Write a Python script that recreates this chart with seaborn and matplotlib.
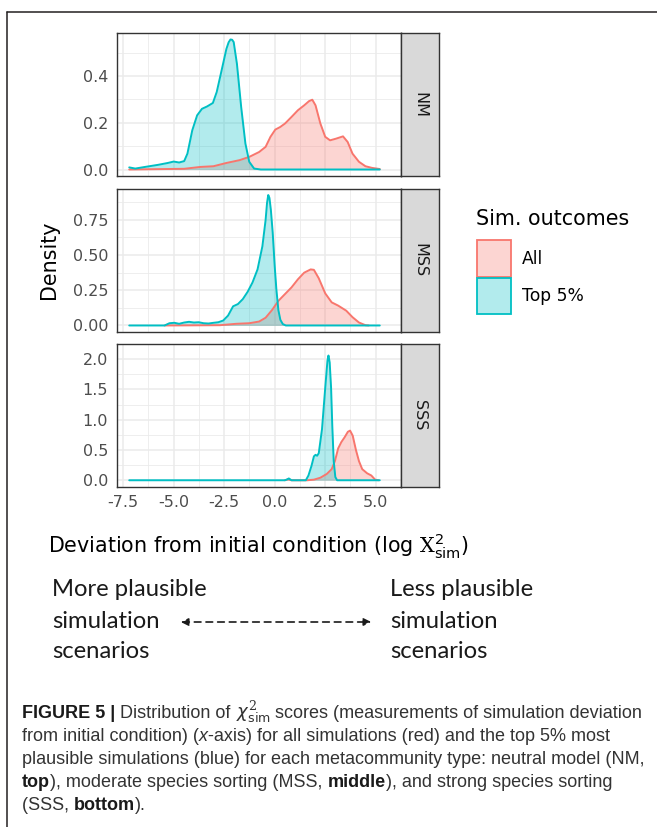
import numpy as np
import pandas as pd
import matplotlib
matplotlib.use("Agg")
import matplotlib.pyplot as plt
import seaborn as sns
from matplotlib.patches import Rectangle, FancyArrowPatch
from matplotlib.lines import Line2D
from matplotlib.colors import to_rgba

# ---------------------------------------------------------------- data
models = ["NM", "MSS", "SSS"]
outcomes = ["All", "Top 5%"]
palette = {"All": "#F8766D", "Top 5%": "#00BFC4"}

x_breaks = [-7.5, -5.0, -2.5, 0.0, 2.5, 5.0]
x_labels = ["-7.5", "-5.0", "-2.5", "0.0", "2.5", "5.0"]
y_breaks = {"NM": [0.0, 0.2, 0.4],
            "MSS": [0.0, 0.25, 0.5, 0.75],
            "SSS": [0.0, 0.5, 1.0, 1.5, 2.0]}
y_labels = {"NM": ["0.0", "0.2", "0.4"],
            "MSS": ["0.00", "0.25", "0.50", "0.75"],
            "SSS": ["0.0", "0.5", "1.0", "1.5", "2.0"]}

# neutral model
nm_all_x = [-7.2, -4.48, -3.68, -3.03, -2.39, -1.74, -1.26, -0.77, -0.45, -0.21,
            0.03, 0.27, 0.51, 0.83, 1.15, 1.46, 1.7, 1.86, 2.02, 2.26, 2.5, 2.74,
            3.03, 3.38, 3.61, 3.85, 4.17, 4.49, 4.81, 5.2]
nm_all_y = [0.0, 0.003, 0.011, 0.014, 0.028, 0.04, 0.054, 0.075, 0.097, 0.14,
            0.171, 0.182, 0.197, 0.225, 0.254, 0.275, 0.293, 0.299, 0.275, 0.197,
            0.14, 0.125, 0.132, 0.142, 0.118, 0.068, 0.033, 0.014, 0.007, 0.002]
nm_top_x = [-7.2, -6.9, -6.42, -5.77, -5.29, -5.0, -4.73, -4.48, -4.32, -4.08,
            -3.84, -3.6, -3.35, -3.06, -2.87, -2.63, -2.39, -2.28, -2.19, -2.11,
            -2.03, -1.87, -1.66, -1.45, -1.26, -1.02, -0.69, 5.2]
nm_top_y = [0.009, 0.004, 0.011, 0.02, 0.028, 0.034, 0.03, 0.036, 0.068, 0.168,
            0.232, 0.26, 0.27, 0.285, 0.332, 0.424, 0.517, 0.545, 0.557, 0.556,
            0.546, 0.453, 0.268, 0.111, 0.033, 0.004, 0.0, 0.0]

# moderate species sorting
mss_all_x = [-5.45, -2.71, -1.9, -1.26, -0.77, -0.45, -0.13, 0.19, 0.51, 0.83,
             1.15, 1.46, 1.78, 1.94, 2.18, 2.5, 2.82, 3.14, 3.54, 3.85, 4.17,
             4.49, 4.65]
mss_all_y = [0.0, 0.002, 0.012, 0.016, 0.028, 0.055, 0.11, 0.176, 0.223, 0.27,
             0.328, 0.375, 0.398, 0.395, 0.335, 0.228, 0.164, 0.141, 0.105, 0.059,
             0.021, 0.002, 0.0]
mss_top_x = [-7.2, -5.45, -5.21, -4.97, -4.73, -4.48, -4.24, -4.0, -3.76, -3.52,
             -3.27, -3.03, -2.79, -2.55, -2.31, -2.06, -1.82, -1.58, -1.34, -1.1,
             -0.85, -0.61, -0.45, -0.38, -0.32, -0.26, -0.19, -0.1, 0.0, 0.08,
             0.18, 0.28, 0.4, 0.55, 5.2]
mss_top_y = [0.0, 0.0, 0.016, 0.019, 0.012, 0.021, 0.026, 0.021, 0.023, 0.016,
             0.014, 0.019, 0.023, 0.035, 0.07, 0.136, 0.152, 0.187, 0.239, 0.305,
             0.398, 0.562, 0.75, 0.87, 0.926, 0.905, 0.82, 0.66, 0.42, 0.26,
             0.11, 0.04, 0.01, 0.0, 0.0]

# strong species sorting
sss_all_x = [0.5, 0.67, 0.83, 1.62, 1.94, 2.26, 2.58, 2.82, 2.98, 3.14, 3.3, 3.46,
             3.62, 3.73, 3.86, 4.02, 4.17, 4.33, 4.57, 4.78, 4.97, 5.13]
sss_all_y = [0.0, 0.016, 0.0, 0.0, 0.01, 0.042, 0.105, 0.184, 0.316, 0.526, 0.632,
             0.71, 0.8, 0.82, 0.737, 0.5, 0.316, 0.184, 0.116, 0.079, 0.01, 0.0]
sss_top_x = [-7.2, 0.5, 0.59, 0.7, 0.83, 1.54, 1.67, 1.82, 1.94, 2.02, 2.1, 2.18,
             2.34, 2.5, 2.61, 2.66, 2.72, 2.79, 2.85, 2.92, 3.0, 3.09, 5.2]
sss_top_y = [0.0, 0.0, 0.01, 0.03, 0.0, 0.0, 0.079, 0.237, 0.395, 0.42, 0.405,
             0.447, 0.842, 1.526, 1.974, 2.06, 1.947, 1.526, 0.895, 0.316, 0.053,
             0.0, 0.0]

series = {
    ("NM", "All"): (nm_all_x, nm_all_y), ("NM", "Top 5%"): (nm_top_x, nm_top_y),
    ("MSS", "All"): (mss_all_x, mss_all_y), ("MSS", "Top 5%"): (mss_top_x, mss_top_y),
    ("SSS", "All"): (sss_all_x, sss_all_y), ("SSS", "Top 5%"): (sss_top_x, sss_top_y),
}
df = pd.concat(
    [pd.DataFrame({"x": xs, "density": ys, "outcome": o, "model": m})
     for (m, o), (xs, ys) in series.items()],
    ignore_index=True)

# ---------------------------------------------------------------- style
sns.set_style("white")
plt.rcParams["font.family"] = ["DejaVu Sans"]
plt.rcParams["axes.unicode_minus"] = False
plt.rcParams["mathtext.fontset"] = "custom"
plt.rcParams["mathtext.rm"] = "DejaVu Serif"
plt.rcParams["mathtext.sf"] = "DejaVu Sans"
plt.rcParams["mathtext.it"] = "DejaVu Sans:italic"
plt.rcParams["mathtext.bf"] = "DejaVu Sans:bold"

W, H = 657, 827
fig = plt.figure(figsize=(W / 100, H / 100), dpi=100)
fig.patch.set_facecolor("white")


def fx(px):
    return px / W


def fy(py):
    return 1 - py / H


TICK = 11.5
LEG = 12.3
TITLE = 14.9
BORDER = "#333333"

panel_left, panel_right, strip_right = 116.7, 401.0, 438.6
panel_rows = [(33.0, 176.0), (188.5, 332.0), (344.0, 486.5)]

xmin, xmax = df["x"].min(), df["x"].max()
xpad = 0.05 * (xmax - xmin)
x_minor = [b + 1.25 for b in x_breaks]

for i, (model, (top, bot)) in enumerate(zip(models, panel_rows)):
    ax = fig.add_axes([fx(panel_left), fy(bot), fx(panel_right - panel_left),
                       (bot - top) / H])
    sub = df[df["model"] == model]
    for outcome in outcomes:
        part = sub[sub["outcome"] == outcome]
        ax.fill_between(part["x"], part["density"], color=palette[outcome],
                        alpha=0.3, lw=0)
        sns.lineplot(data=part, x="x", y="density", color=palette[outcome],
                     lw=1.4, estimator=None, sort=False, ax=ax, legend=False)

    ymax = sub["density"].max()
    ax.set_xlim(xmin - xpad, xmax + xpad)
    ax.set_ylim(-0.05 * ymax, 1.05 * ymax)

    yb = y_breaks[model]
    step = yb[1] - yb[0]
    y_minor = [b + step / 2 for b in yb]
    ax.set_yticks(yb)
    ax.set_yticklabels(y_labels[model])
    ax.set_yticks(y_minor, minor=True)
    ax.set_xticks(x_breaks)
    ax.set_xticks(x_minor, minor=True)
    ax.set_xticklabels(x_labels)

    ax.grid(which="major", color="#EBEBEB", lw=1.1)
    ax.grid(which="minor", color="#EBEBEB", lw=0.6)
    ax.set_axisbelow(True)
    for sp in ax.spines.values():
        sp.set_color(BORDER)
        sp.set_linewidth(1.0)
    ax.tick_params(which="major", direction="out", length=3.6, width=0.8,
                   color=BORDER, labelcolor="#4D4D4D", labelsize=TICK, pad=2.5)
    ax.tick_params(which="minor", length=0)
    ax.set_xlabel("")
    ax.set_ylabel("")
    if i < 2:
        ax.tick_params(axis="x", which="major", bottom=False, labelbottom=False)

    # facet strip
    sax = fig.add_axes([fx(panel_right), fy(bot), fx(strip_right - panel_right),
                        (bot - top) / H])
    sax.set_facecolor("#D9D9D9")
    sax.set_xticks([])
    sax.set_yticks([])
    for sp in sax.spines.values():
        sp.set_color(BORDER)
        sp.set_linewidth(1.0)
    sax.text(0.5, 0.5, model, rotation=-90, ha="center", va="center",
             fontsize=TICK, color="#1A1A1A", transform=sax.transAxes)

# axis titles
fig.text(fx(49), fy(260), "Density", rotation=90, ha="center", va="center",
         fontsize=TITLE, color="black")
fig.text(fx((panel_left + panel_right) / 2), fy(546),
         r"Deviation from initial condition (log $\mathrm{X}^{\mathsf{2}}_{\mathsf{sim}}$)",
         ha="center", va="center", fontsize=TITLE, color="black")

# legend
fig.text(fx(476), fy(225), "Sim. outcomes", ha="left", va="baseline",
         fontsize=TITLE, color="black")
key_rows = [(240.0, 277.0), (278.0, 314.0)]
for outcome, (k0, k1) in zip(outcomes, key_rows):
    fig.add_artist(Rectangle((fx(477), fy(k1)), fx(34), (k1 - k0) / H,
                             transform=fig.transFigure,
                             facecolor=to_rgba(palette[outcome], 0.3),
                             edgecolor=palette[outcome], lw=1.3))
    fig.text(fx(522), fy((k0 + k1) / 2), outcome, ha="left", va="center",
             fontsize=LEG, color="black")

# plausibility arrow annotation
NOTE = 17.2
for j, line in enumerate(["More plausible", "simulation", "scenarios"]):
    fig.text(fx(52), fy(590 + 31 * j), line, ha="left", va="center",
             fontsize=NOTE, family=["Lato", "DejaVu Sans"], color="#1A1A1A")
for j, line in enumerate(["Less plausible", "simulation", "scenarios"]):
    fig.text(fx(390), fy(590 + 31 * j), line, ha="left", va="center",
             fontsize=NOTE, family=["Lato", "DejaVu Sans"], color="#1A1A1A")
fig.add_artist(FancyArrowPatch((fx(178), fy(622)), (fx(374), fy(622)),
                               transform=fig.transFigure, arrowstyle="<|-|>",
                               mutation_scale=11, lw=1.2, color="#1A1A1A",
                               linestyle=(0, (4, 3))))

# caption with mixed styles
CAP = 13.0
CAP_FAMILY = ["Liberation Sans", "DejaVu Sans"]
renderer = fig.canvas.get_renderer()


def text_width(s, **kw):
    a = fig.text(0, 0, s + "|", **kw)
    b = fig.text(0, 0, "|", **kw)
    w = (a.get_window_extent(renderer).width - b.get_window_extent(renderer).width)
    a.remove()
    b.remove()
    return w


def rich_line(x_px, y_px, pieces):
    x = x_px
    for txt, weight, style, color in pieces:
        kw = dict(fontsize=CAP, fontweight=weight, fontstyle=style, color=color,
                  family=CAP_FAMILY)
        fig.text(fx(x), fy(y_px), txt, ha="left", va="baseline", **kw)
        x += text_width(txt, **kw)


GREY = "#333333"
caption = [
    [("FIGURE 5 | ", "bold", "normal", "#1A1A1A"),
     ("Distribution of ", "normal", "normal", GREY),
     (r"$\chi^{2}_{\mathsf{sim}}$", "normal", "normal", GREY),
     (" scores (measurements of simulation deviation", "normal", "normal", GREY)],
    [("from initial condition) (", "normal", "normal", GREY),
     ("x", "normal", "italic", GREY),
     ("-axis) for all simulations (red) and the top 5% most", "normal", "normal", GREY)],
    [("plausible simulations (blue) for each metacommunity type: neutral model (NM,",
      "normal", "normal", GREY)],
    [("top", "bold", "normal", "#1A1A1A"),
     ("), moderate species sorting (MSS, ", "normal", "normal", GREY),
     ("middle", "bold", "normal", "#1A1A1A"),
     ("), and strong species sorting", "normal", "normal", GREY)],
    [("(SSS, ", "normal", "normal", GREY),
     ("bottom", "bold", "normal", "#1A1A1A"),
     (").", "normal", "normal", GREY)],
]
for k, pieces in enumerate(caption):
    rich_line(22, 718 + 23 * k, pieces)

# outer frame
fig.add_artist(Line2D([fx(7), 1.0], [fy(12), fy(12)], transform=fig.transFigure,
                      color="#231F20", lw=1.1))
fig.add_artist(Line2D([fx(7), fx(7)], [fy(12), 0.0], transform=fig.transFigure,
                      color="#231F20", lw=1.1))

fig.savefig("out.png", dpi=100, facecolor="white")
